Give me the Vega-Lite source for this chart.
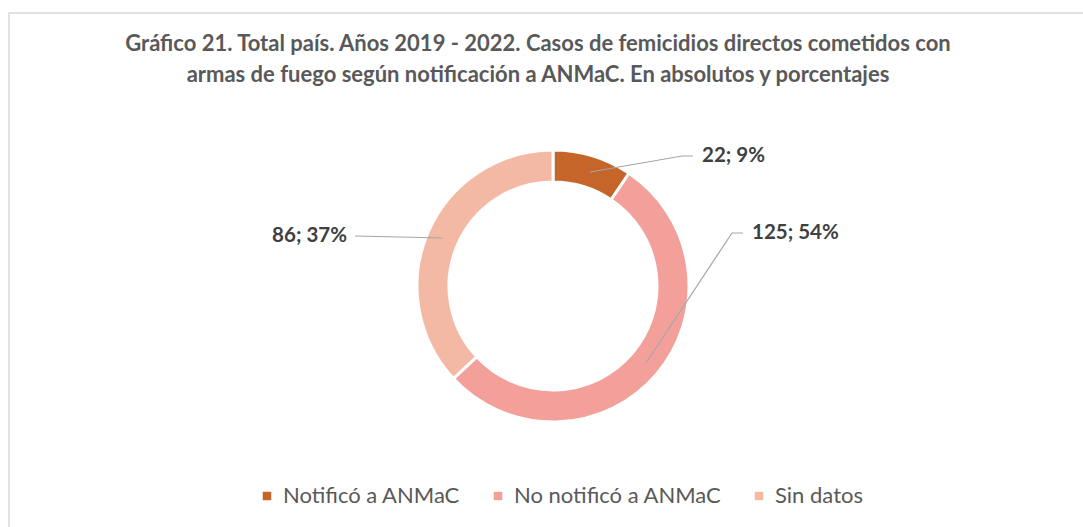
{
  "$schema": "https://vega.github.io/schema/vega-lite/v6.json",
  "autosize": {"type": "none"},
  "padding": {"left": 9, "top": 13, "right": 0, "bottom": 0},
  "width": 1080,
  "height": 520,
  "background": "white",
  "config": {"view": {"stroke": "#D9D9D9", "strokeWidth": 1.5}, "font": "Lato"},
  "title": {
    "text": ["Gráfico 21. Total país. Años 2019 - 2022. Casos de femicidios directos cometidos con", "armas de fuego según notificación a ANMaC. En absolutos y porcentajes"],
    "anchor": "middle",
    "frame": "group",
    "offset": -74,
    "dx": -11,
    "font": "Lato",
    "fontSize": 22,
    "fontWeight": "bold",
    "color": "#595959",
    "lineHeight": 31
  },
  "datasets": {
    "segmentos": [
      {"categoria": "Notificó a ANMaC", "casos": 22, "porcentaje": 9, "orden": 1},
      {"categoria": "No notificó a ANMaC", "casos": 125, "porcentaje": 54, "orden": 2},
      {"categoria": "Sin datos", "casos": 86, "porcentaje": 37, "orden": 3}
    ],
    "guias": [
      {"categoria": "Notificó a ANMaC", "punto": 1, "gx": 37, "gy": 114, "fin": false},
      {"categoria": "Notificó a ANMaC", "punto": 2, "gx": 129, "gy": 130, "fin": false},
      {"categoria": "Notificó a ANMaC", "punto": 3, "gx": 140, "gy": 130, "fin": true},
      {"categoria": "No notificó a ANMaC", "punto": 1, "gx": 93, "gy": -77, "fin": false},
      {"categoria": "No notificó a ANMaC", "punto": 2, "gx": 179, "gy": 53, "fin": false},
      {"categoria": "No notificó a ANMaC", "punto": 3, "gx": 190, "gy": 53, "fin": true},
      {"categoria": "Sin datos", "punto": 1, "gx": -110, "gy": 48, "fin": false},
      {"categoria": "Sin datos", "punto": 2, "gx": -198, "gy": 50, "fin": true}
    ]
  },
  "layer": [
    {
      "data": {"name": "segmentos"},
      "mark": {"type": "arc", "outerRadius": 136, "innerRadius": 104, "stroke": "white", "strokeWidth": 3},
      "encoding": {
        "theta": {"field": "casos", "type": "quantitative", "stack": true},
        "order": {"field": "orden", "type": "quantitative"},
        "x": {"datum": 0, "type": "quantitative", "scale": {"domain": [-544, 536], "nice": false, "zero": false}, "axis": null},
        "y": {"datum": 0, "type": "quantitative", "scale": {"domain": [-247, 273], "nice": false, "zero": false}, "axis": null},
        "color": {
          "field": "categoria",
          "type": "nominal",
          "sort": ["Notificó a ANMaC", "No notificó a ANMaC", "Sin datos"],
          "scale": {"domain": ["Notificó a ANMaC", "No notificó a ANMaC", "Sin datos"], "range": ["#C5652A", "#F3A09A", "#F4B9A4"]},
          "legend": {
            "title": null,
            "orient": "none",
            "direction": "horizontal",
            "legendX": 247,
            "legendY": 472,
            "padding": 0,
            "symbolType": "square",
            "symbolSize": 72,
            "symbolStrokeWidth": 0,
            "labelFont": "Lato",
            "labelFontSize": 22,
            "labelColor": "#595959",
            "labelOffset": 5,
            "columnPadding": 26,
            "labelLimit": 400
          }
        }
      }
    },
    {
      "data": {"name": "guias"},
      "mark": {"type": "line", "color": "#A6A6A6", "strokeWidth": 1.2},
      "encoding": {
        "x": {"field": "gx", "type": "quantitative"},
        "y": {"field": "gy", "type": "quantitative"},
        "detail": {"field": "categoria", "type": "nominal"},
        "order": {"field": "punto", "type": "quantitative"}
      }
    },
    {
      "data": {"name": "guias"},
      "transform": [
        {"filter": "datum.fin && datum.gx > 0"},
        {"lookup": "categoria", "from": {"data": {"name": "segmentos"}, "key": "categoria", "fields": ["casos", "porcentaje"]}},
        {"calculate": "datum.casos + '; ' + datum.porcentaje + '%'", "as": "etiqueta"}
      ],
      "mark": {"type": "text", "align": "left", "baseline": "middle", "dx": 9, "font": "Lato", "fontSize": 20.5, "fontWeight": "bold", "color": "#404040"},
      "encoding": {
        "x": {"field": "gx", "type": "quantitative"},
        "y": {"field": "gy", "type": "quantitative"},
        "text": {"field": "etiqueta", "type": "nominal"}
      }
    },
    {
      "data": {"name": "guias"},
      "transform": [
        {"filter": "datum.fin && datum.gx < 0"},
        {"lookup": "categoria", "from": {"data": {"name": "segmentos"}, "key": "categoria", "fields": ["casos", "porcentaje"]}},
        {"calculate": "datum.casos + '; ' + datum.porcentaje + '%'", "as": "etiqueta"}
      ],
      "mark": {"type": "text", "align": "right", "baseline": "middle", "dx": -8, "font": "Lato", "fontSize": 20.5, "fontWeight": "bold", "color": "#404040"},
      "encoding": {
        "x": {"field": "gx", "type": "quantitative"},
        "y": {"field": "gy", "type": "quantitative"},
        "text": {"field": "etiqueta", "type": "nominal"}
      }
    }
  ]
}
